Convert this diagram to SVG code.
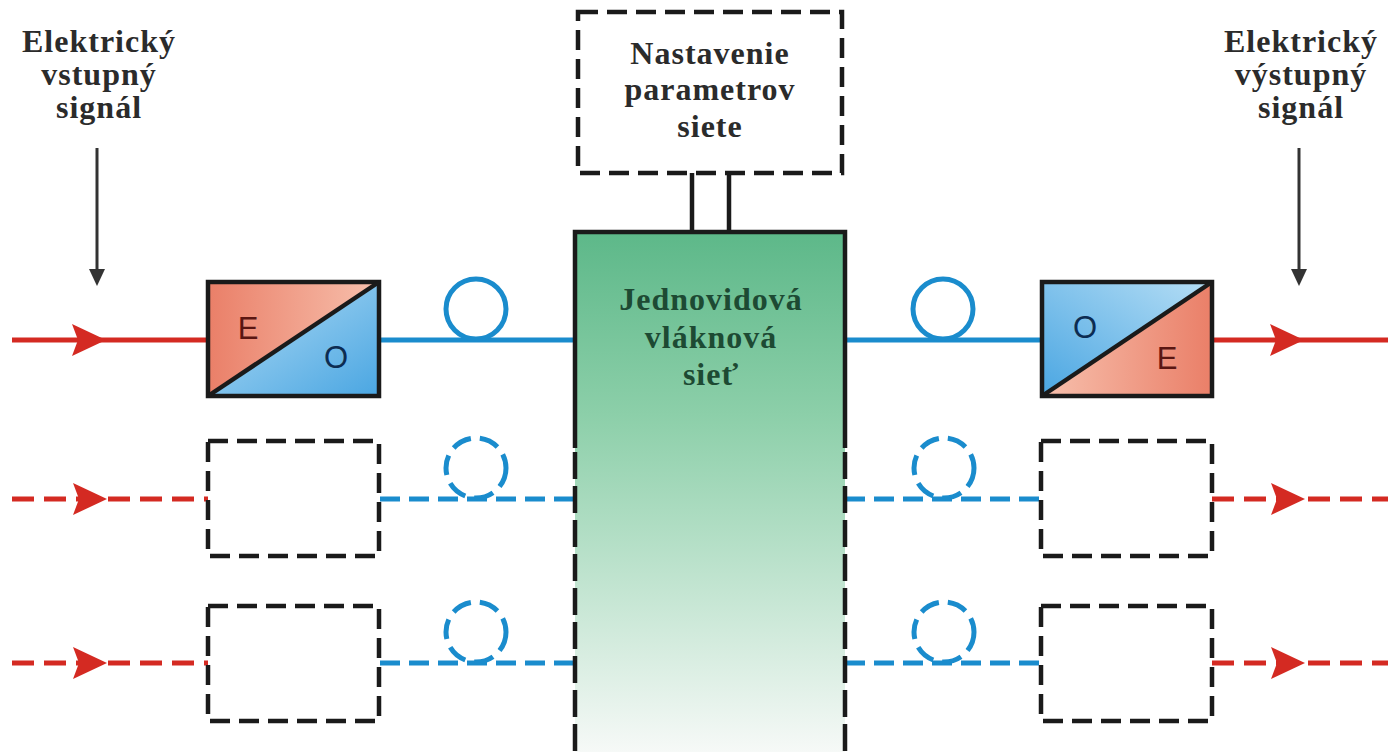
<svg xmlns="http://www.w3.org/2000/svg" width="1388" height="752" viewBox="0 0 1388 752">
  <style>
    .label { font-family: "Liberation Serif", "DejaVu Serif", "Times New Roman", serif; font-weight: bold; font-size: 32px; fill: #2b2b2b; text-anchor: middle; letter-spacing: 1px; }
    .netlabel { fill: #1d4a33; }
    .conv { font-family: "Liberation Sans", "DejaVu Sans", Arial, sans-serif; font-size: 31px; text-anchor: middle; }
    .box { stroke: #1a1a1a; stroke-width: 4.5; }
    .dashbox { fill: none; stroke: #1a1a1a; stroke-width: 4.5; stroke-dasharray: 20 9; }
    .elec { stroke: #d42a22; stroke-width: 5; fill: none; }
    .elec-d { stroke: #d42a22; stroke-width: 5; fill: none; stroke-dasharray: 22 10; }
    .fiber { stroke: #1a8ccd; stroke-width: 5; fill: none; }
    .fiber-d { stroke: #1a8ccd; stroke-width: 5; fill: none; stroke-dasharray: 20 9; }
    .ctrl { stroke: #1a1a1a; stroke-width: 4.5; fill: none; }
    .pointer { stroke: #333; stroke-width: 3; fill: none; }
  </style>
  <defs>
    <linearGradient id="gNet" x1="0" y1="232" x2="0" y2="752" gradientUnits="userSpaceOnUse">
      <stop offset="0" stop-color="#5db889"/>
      <stop offset="0.35" stop-color="#8ccfa9"/>
      <stop offset="1" stop-color="#f6f9f7"/>
    </linearGradient>
    <linearGradient id="gElecL" x1="0" y1="0" x2="1" y2="0">
      <stop offset="0" stop-color="#ea7f68"/>
      <stop offset="1" stop-color="#f7c0ad"/>
    </linearGradient>
    <linearGradient id="gOptL" x1="0" y1="0" x2="1" y2="1">
      <stop offset="0" stop-color="#b6def5"/>
      <stop offset="1" stop-color="#4aa6e2"/>
    </linearGradient>
    <linearGradient id="gElecR" x1="1" y1="0" x2="0" y2="0">
      <stop offset="0" stop-color="#ea7f68"/>
      <stop offset="1" stop-color="#f7c0ad"/>
    </linearGradient>
    <linearGradient id="gOptR" x1="0" y1="1" x2="1" y2="0">
      <stop offset="0" stop-color="#4aa6e2"/>
      <stop offset="1" stop-color="#b6def5"/>
    </linearGradient>
    <!-- arrowhead placed mid-line, tip at origin -->
    <path id="redHead" d="M0,0 L-34,-16 L-28,0 L-34,16 Z" fill="#d42a22"/>
    <path id="blackHead" d="M0,0 L-8,-17 L8,-17 Z" fill="#333"/>
  </defs>

  <!-- connectors -->
  <g id="connectors">
    <!-- electrical inputs -->
    <line class="elec" x1="12" y1="340" x2="208" y2="340"/>
    <use href="#redHead" x="106" y="340"/>
    <line class="elec-d" x1="12" y1="499" x2="208" y2="499"/>
    <use href="#redHead" x="107" y="499"/>
    <line class="elec-d" x1="12" y1="663" x2="208" y2="663"/>
    <use href="#redHead" x="107" y="663"/>

    <!-- electrical outputs -->
    <line class="elec" x1="1212" y1="340" x2="1388" y2="340"/>
    <use href="#redHead" x="1304" y="340"/>
    <line class="elec-d" x1="1212" y1="499" x2="1388" y2="499"/>
    <use href="#redHead" x="1305" y="499"/>
    <line class="elec-d" x1="1212" y1="663" x2="1388" y2="663"/>
    <use href="#redHead" x="1305" y="663"/>

    <!-- fibre links with coils, left side -->
    <line class="fiber" x1="379" y1="340" x2="575" y2="340"/>
    <circle class="fiber" cx="476" cy="309" r="30"/>
    <line class="fiber-d" x1="380" y1="499" x2="575" y2="499"/>
    <circle class="fiber-d" cx="476" cy="468" r="30"/>
    <line class="fiber-d" x1="380" y1="663" x2="575" y2="663"/>
    <circle class="fiber-d" cx="476" cy="632" r="30"/>

    <!-- fibre links with coils, right side -->
    <line class="fiber" x1="845" y1="340" x2="1042" y2="340"/>
    <circle class="fiber" cx="943" cy="309" r="30"/>
    <line class="fiber-d" x1="845" y1="499" x2="1040" y2="499"/>
    <circle class="fiber-d" cx="944" cy="468" r="30"/>
    <line class="fiber-d" x1="845" y1="663" x2="1040" y2="663"/>
    <circle class="fiber-d" cx="944" cy="632" r="30"/>

    <!-- control links from settings to network -->
    <line class="ctrl" x1="692" y1="173" x2="692" y2="232"/>
    <line class="ctrl" x1="729" y1="173" x2="729" y2="232"/>

    <!-- signal pointers -->
    <line class="pointer" x1="97" y1="148" x2="97" y2="272"/>
    <use href="#blackHead" x="97" y="286"/>
    <line class="pointer" x1="1299" y1="148" x2="1299" y2="272"/>
    <use href="#blackHead" x="1299" y="286"/>
  </g>

  <!-- input label -->
  <g id="input-label">
    <text class="label" x="99" y="52">Elektrický</text>
    <text class="label" x="99" y="85">vstupný</text>
    <text class="label" x="99" y="118">signál</text>
  </g>

  <!-- output label -->
  <g id="output-label">
    <text class="label" x="1301" y="52">Elektrický</text>
    <text class="label" x="1301" y="85">výstupný</text>
    <text class="label" x="1301" y="118">signál</text>
  </g>

  <!-- network settings -->
  <g id="settings">
    <rect class="dashbox" x="578" y="12" width="264" height="161"/>
    <text class="label" x="710" y="64">Nastavenie</text>
    <text class="label" x="710" y="100">parametrov</text>
    <text class="label" x="710" y="137">siete</text>
  </g>

  <!-- single-mode fibre network -->
  <g id="network">
    <rect x="575" y="232" width="270" height="530" fill="url(#gNet)"/>
    <path class="ctrl" d="M575,448 L575,232 L845,232 L845,448"/>
    <line class="dashbox" x1="575" y1="452" x2="575" y2="760" style="stroke-dasharray:27 7"/>
    <line class="dashbox" x1="845" y1="452" x2="845" y2="760" style="stroke-dasharray:27 7"/>
    <text class="label netlabel" x="711" y="310">Jednovidová</text>
    <text class="label netlabel" x="711" y="348">vláknová</text>
    <text class="label netlabel" x="711" y="385">sieť</text>
  </g>

  <!-- E/O transmitter -->
  <g id="tx-eo">
    <polygon points="208,282 379,282 208,396" fill="url(#gElecL)"/>
    <polygon points="379,282 379,396 208,396" fill="url(#gOptL)"/>
    <rect class="box" x="208" y="282" width="171" height="114" fill="none"/>
    <line class="box" x1="208" y1="396" x2="379" y2="282"/>
    <text class="conv" x="248" y="339" fill="#5a1612">E</text>
    <text class="conv" x="336" y="368" fill="#0c2c52">O</text>
  </g>

  <!-- O/E receiver -->
  <g id="rx-oe">
    <polygon points="1042,282 1212,282 1042,396" fill="url(#gOptR)"/>
    <polygon points="1212,282 1212,396 1042,396" fill="url(#gElecR)"/>
    <rect class="box" x="1042" y="282" width="170" height="114" fill="none"/>
    <line class="box" x1="1042" y1="396" x2="1212" y2="282"/>
    <text class="conv" x="1085" y="338" fill="#0c2c52">O</text>
    <text class="conv" x="1167" y="369" fill="#5a1612">E</text>
  </g>

  <!-- further transmitter slots -->
  <g id="tx-2"><rect class="dashbox" x="208" y="441" width="171" height="115"/></g>
  <g id="tx-3"><rect class="dashbox" x="208" y="606" width="171" height="115"/></g>

  <!-- further receiver slots -->
  <g id="rx-2"><rect class="dashbox" x="1041" y="441" width="171" height="115"/></g>
  <g id="rx-3"><rect class="dashbox" x="1041" y="606" width="171" height="115"/></g>
</svg>
